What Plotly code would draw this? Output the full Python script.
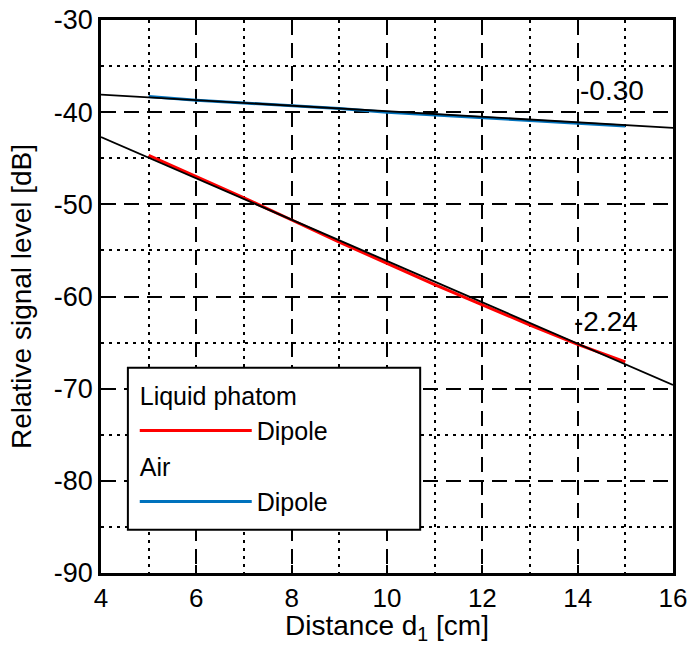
import plotly.graph_objects as go

# Data
x_meas = [5, 6, 7, 8, 9, 10, 11, 12, 13, 14, 15]
liquid_dipole = [-44.7, -47.0, -49.3, -51.7, -54.1, -56.4, -58.7, -60.9, -63.1, -65.2, -67.1]
air_dipole = [-38.3, -38.7, -39.0, -39.3, -39.6, -40.0, -40.3, -40.6, -40.9, -41.2, -41.5]
x_fit = [4, 16]
liquid_fit = [-42.7, -69.6]
air_fit = [-38.1, -41.7]
slope_labels = ["-0.30", "-2.24"]
slope_label_x = [14.72, 14.6]
slope_label_y = [-37.6, -62.75]

x_ticks = [4, 6, 8, 10, 12, 14, 16]
x_ticktext = ["4", "6", "8", "10", "12", "14", "16"]
x_minor = [5, 7, 9, 11, 13, 15]
y_ticks = [-90, -80, -70, -60, -50, -40, -30]
y_ticktext = ["-90", "-80", "-70", "-60", "-50", "-40", "-30"]
y_minor = [-85, -75, -65, -55, -45, -35]

FONT = "Liberation Sans, Arial, sans-serif"
FS = 28

fig = go.Figure()
fig.add_trace(go.Scatter(x=x_meas, y=liquid_dipole, mode="lines", name="Dipole",
                         line=dict(color="#ff0000", width=3),
                         legendgroup="liquid", legendgrouptitle_text="Liquid phatom"))
fig.add_trace(go.Scatter(x=x_meas, y=air_dipole, mode="lines", name="Dipole",
                         line=dict(color="#0072bd", width=3),
                         legendgroup="air", legendgrouptitle_text="Air"))
fig.add_trace(go.Scatter(x=x_fit, y=liquid_fit, mode="lines", showlegend=False,
                         line=dict(color="black", width=1.9)))
fig.add_trace(go.Scatter(x=x_fit, y=air_fit, mode="lines", showlegend=False,
                         line=dict(color="black", width=1.9)))

for t, xx, yy in zip(slope_labels, slope_label_x, slope_label_y):
    fig.add_annotation(x=xx, y=yy, text=t, showarrow=False,
                       font=dict(size=FS, color="black", family=FONT))

# legend frame (drawn as a box behind the legend entries)
fig.add_shape(type="rect", xref="paper", yref="paper",
              x0=0.047, x1=0.558, y0=0.078, y1=0.371,
              fillcolor="white", line=dict(color="black", width=2), layer="above")

axis_common = dict(showline=True, mirror=True, linecolor="black", linewidth=2.5,
                   ticks="inside", ticklen=8, tickwidth=2, tickcolor="black",
                   showgrid=True, gridcolor="black", gridwidth=2, griddash="15px,8px",
                   zeroline=False, tickmode="array",
                   title_font=dict(size=FS, color="black", family=FONT))

fig.update_xaxes(range=[4, 16], tickvals=x_ticks, ticktext=x_ticktext,
                 tickfont=dict(size=26, color="black", family=FONT),
                 minor=dict(tickmode="array", tickvals=x_minor, showgrid=True,
                            gridcolor="black", gridwidth=2, griddash="3px,5px", ticks=""),
                 title_text="Distance d<sub>1</sub> [cm]", title_standoff=12,
                 **axis_common)
fig.update_yaxes(range=[-90, -30], tickvals=y_ticks, ticktext=y_ticktext,
                 tickfont=dict(size=27, color="black", family=FONT),
                 minor=dict(tickmode="array", tickvals=y_minor, showgrid=True,
                            gridcolor="black", gridwidth=2, griddash="3px,5px", ticks=""),
                 title_text="Relative signal level [dB]", title_standoff=15,
                 **axis_common)

fig.update_layout(
    width=698, height=645,
    margin=dict(l=101, r=25, t=20, b=72, autoexpand=False),
    plot_bgcolor="white", paper_bgcolor="white",
    font=dict(family=FONT, color="black"),
    legend=dict(x=0.059, y=0.363, xanchor="left", yanchor="top",
                bgcolor="rgba(0,0,0,0)", borderwidth=0,
                font=dict(size=25, color="black", family=FONT),
                grouptitlefont=dict(size=25, color="black", family=FONT),
                tracegroupgap=0, itemwidth=112),
)

fig.write_html("out.html", config={"displayModeBar": False},
               post_script="document.body.style.margin='0';")
